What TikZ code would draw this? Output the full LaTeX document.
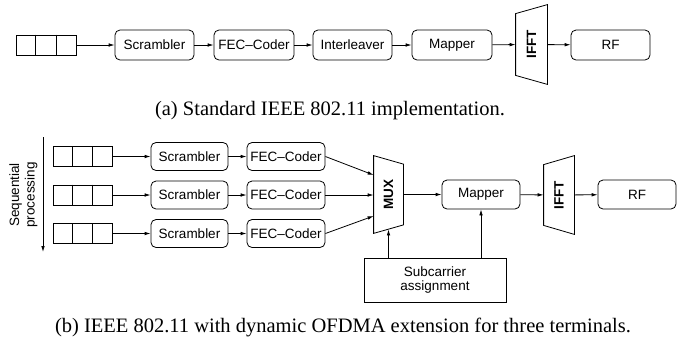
\documentclass[tikz,border=0pt]{standalone}
\usepackage{fontspec}
\setmainfont{Liberation Serif}
\setsansfont{Liberation Sans}
\usetikzlibrary{arrows.meta,calc,positioning}

\begin{document}
\begin{tikzpicture}[x=1pt, y=-1pt, >={Latex[length=6pt,width=3.6pt]}, line width=0.8pt,
  lbl/.style={font=\fontsize{13.5}{14}\selectfont\sffamily},
  block/.style={lbl, draw, rounded corners=5pt, minimum width=79pt, minimum height=30pt, inner sep=0pt},
  sblock/.style={block, minimum width=78pt, minimum height=28pt},
  queue/.style={draw, minimum width=60pt, minimum height=20pt, inner sep=0pt},
  trap/.style={lbl, inner sep=0pt, minimum width=30pt},
  capt/.style={font=\fontsize{20.5}{24}\selectfont\rmfamily}]
  \useasboundingbox (0,0) rectangle (688,341);
  \node[queue] (qa) at (46,45) {};
  \node[block] (scra) at (154.5,45) {Scrambler};
  \node[block, minimum width=80pt] (feca) at (254,45) {FEC–Coder};
  \node[block] (intla) at (352.5,45) {Interleaver};
  \node[block, minimum width=80pt] (mapa) at (452,45) {Mapper};
  \node[trap, minimum width=31pt, minimum height=79pt] (iffta) at (531.5,44.5) {\rotatebox{90}{\bfseries IFFT}};
  \node[block] (rfa) at (610.5,45) {RF};
  \draw (iffta.north east) -- (iffta.south east) -- ($(iffta.south west)+(0,-9)$) -- ($(iffta.north west)+(0,9)$) -- cycle;
  \draw[->] (qa) -- (scra);
  \draw[->] (scra) -- (feca);
  \draw[->] (feca) -- (intla);
  \draw[->] (intla) -- (mapa);
  \draw[->] (mapa) -- (iffta);
  \draw[->] (iffta) -- (rfa);
  \node[capt] (capa) at (330,111) {(a) Standard IEEE 802.11 implementation.};

  \node[queue, minimum width=59pt] (qb) at (82.5,156.5) {};
  \node[queue, minimum width=59pt] (qc) at (82.5,195) {};
  \node[queue, minimum width=59pt] (qd) at (82.5,233.5) {};
  \node[sblock, minimum width=77pt] (scrb) at (189.5,156.5) {Scrambler};
  \node[sblock, minimum width=77pt] (scrc) at (189.5,195) {Scrambler};
  \node[sblock, minimum width=77pt] (scrd) at (189.5,233.5) {Scrambler};
  \node[sblock] (fecb) at (286,156.5) {FEC–Coder};
  \node[sblock] (fecc) at (286,195) {FEC–Coder};
  \node[sblock] (fecd) at (286,233.5) {FEC–Coder};
  \node[trap, minimum width=29pt, minimum height=77pt] (mux) at (388.5,194.5) {\rotatebox{90}{\bfseries MUX}};
  \node[sblock, minimum height=29pt] (mapb) at (481,194.5) {Mapper};
  \node[trap, minimum height=78pt] (ifftb) at (559,195) {\rotatebox{90}{\bfseries IFFT}};
  \node[sblock, minimum height=29pt] (rfb) at (637,194.5) {RF};
  \node[lbl, draw, minimum width=142pt, minimum height=44pt, align=center] (sub) at (435,280) {Subcarrier\\assignment};
  \node[lbl, rotate=90, align=center, font=\fontsize{13.5}{15.5}\selectfont\sffamily] (seq) at (23.5,195) {Sequential\\processing};
  \draw (mux.north west) -- ($(mux.north east)+(0,8.5)$) -- ($(mux.south east)+(0,-8.5)$) -- (mux.south west) -- cycle;
  \draw (ifftb.north east) -- (ifftb.south east) -- ($(ifftb.south west)+(0,-9)$) -- ($(ifftb.north west)+(0,9)$) -- cycle;
  \coordinate (muxa) at ($(mux.west)+(0,-19.5)$);
  \coordinate (muxc) at ($(mux.west)+(0,21.5)$);
  \coordinate (muxs) at ($(mux.south)+(0,-4)$);
  \coordinate (seqtop) at (43,137);
  \coordinate (seqbot) at (43,252);
  \draw[->] (qb) -- (scrb);
  \draw[->] (qc) -- (scrc);
  \draw[->] (qd) -- (scrd);
  \draw[->] (scrb) -- (fecb);
  \draw[->] (scrc) -- (fecc);
  \draw[->] (scrd) -- (fecd);
  \draw[->] (fecb.east) -- (muxa);
  \draw[->] (fecc.east) -- (fecc.east -| mux.west);
  \draw[->] (fecd.east) -- (muxc);
  \draw[->] (mux) -- (mapb);
  \draw[->] (mapb) -- (ifftb);
  \draw[->] (ifftb) -- (rfb);
  \draw[->] (sub.north -| muxs) -- (muxs);
  \draw[->] (sub.north -| mapb.south) -- (mapb.south);
  \draw[->] (seqtop) -- (seqbot);
  \foreach \q in {qa,qb,qc,qd}
    \draw ($(\q.north west)!1/3!(\q.north east)$) -- ($(\q.south west)!1/3!(\q.south east)$)
          ($(\q.north west)!2/3!(\q.north east)$) -- ($(\q.south west)!2/3!(\q.south east)$);
  \node[capt] (capb) at (343,327) {(b) IEEE 802.11 with dynamic OFDMA extension for three terminals.};
\end{tikzpicture}
\end{document}
